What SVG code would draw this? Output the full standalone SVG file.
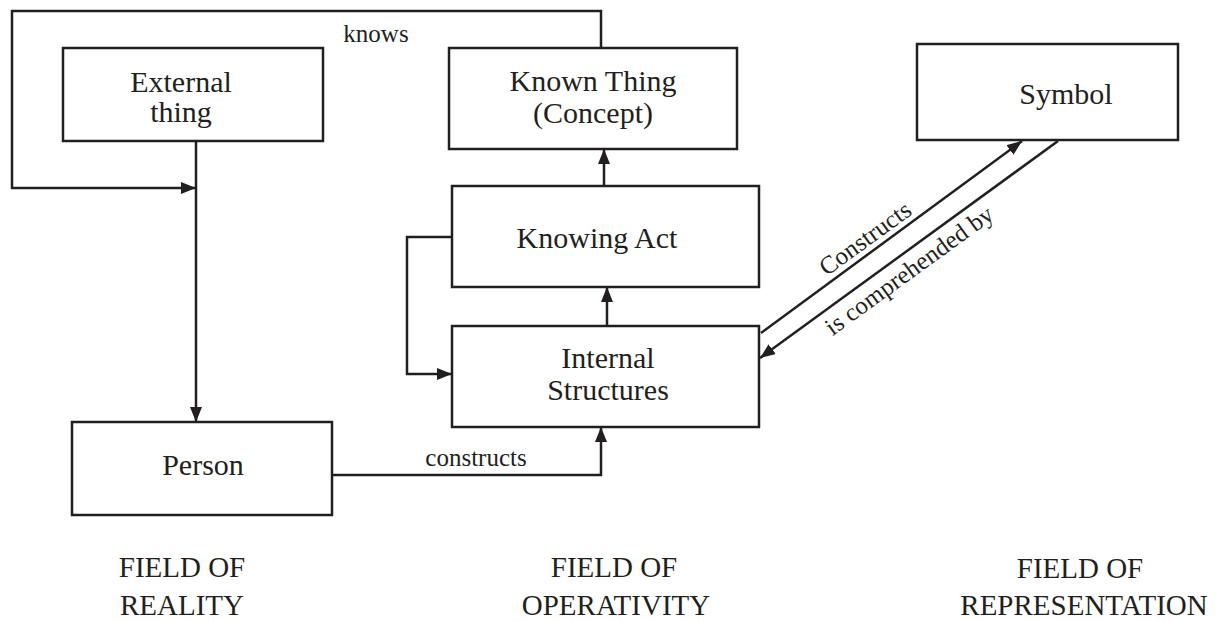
<svg xmlns="http://www.w3.org/2000/svg" width="1222" height="621" viewBox="0 0 1222 621">
  <style>
    .box { fill: #ffffff; stroke: #231f20; stroke-width: 2.5; }
    .link { fill: none; stroke: #231f20; stroke-width: 2.5; }
    .lbl { font-family: "Liberation Serif", "Times New Roman", serif; font-size: 30px; fill: #231f20; text-anchor: middle; }
    .elbl { font-family: "Liberation Serif", "Times New Roman", serif; font-size: 25px; fill: #231f20; text-anchor: middle; }
    .field { font-family: "Liberation Serif", "Times New Roman", serif; font-size: 29px; fill: #231f20; text-anchor: middle; }
  </style>
  <defs>
    <marker id="arrow" markerUnits="userSpaceOnUse" markerWidth="16" markerHeight="12" refX="15" refY="6" orient="auto">
      <path d="M0,0 L15,6 L0,12 z" fill="#231f20"/>
    </marker>
  </defs>
  <rect width="1222" height="621" fill="#ffffff"/>

  <!-- connectors -->
  <g id="connectors">
    <!-- knows: Known Thing loops back over the top to the Person line -->
    <path class="link" d="M601,48 V11 H12 V188 H196" marker-end="url(#arrow)"/>
    <!-- External thing down to Person -->
    <path class="link" d="M196,141 V422" marker-end="url(#arrow)"/>
    <!-- Person constructs Internal Structures -->
    <path class="link" d="M332,475 H601 V427" marker-end="url(#arrow)"/>
    <!-- Internal Structures to Knowing Act -->
    <path class="link" d="M607,326 V287" marker-end="url(#arrow)"/>
    <!-- Knowing Act to Known Thing -->
    <path class="link" d="M604,186 V149" marker-end="url(#arrow)"/>
    <!-- feedback from Knowing Act into Internal Structures -->
    <path class="link" d="M452,237 H407 V374 H452" marker-end="url(#arrow)"/>
    <!-- Internal Structures constructs Symbol -->
    <path class="link" d="M761,333 L1022,141" marker-end="url(#arrow)"/>
    <!-- Symbol is comprehended by Internal Structures -->
    <path class="link" d="M1058,141 L760,358" marker-end="url(#arrow)"/>

    <text class="elbl" x="376" y="42">knows</text>
    <text class="elbl" x="476" y="466">constructs</text>
    <text class="elbl" transform="translate(870,245) rotate(-36)">Constructs</text>
    <text class="elbl" transform="translate(914,277) rotate(-36)">is comprehended by</text>
  </g>

  <!-- nodes -->
  <g id="external-thing">
    <rect class="box" x="63" y="48" width="260" height="93"/>
    <text class="lbl" x="181" y="92">External</text>
    <text class="lbl" x="181" y="122">thing</text>
  </g>
  <g id="known-thing">
    <rect class="box" x="449" y="48" width="288" height="101"/>
    <text class="lbl" x="593" y="91">Known Thing</text>
    <text class="lbl" x="593" y="123">(Concept)</text>
  </g>
  <g id="symbol">
    <rect class="box" x="917" y="44" width="261" height="96"/>
    <text class="lbl" x="1066" y="104">Symbol</text>
  </g>
  <g id="knowing-act">
    <rect class="box" x="452" y="186" width="307" height="101"/>
    <text class="lbl" x="597" y="248">Knowing Act</text>
  </g>
  <g id="internal-structures">
    <rect class="box" x="452" y="326" width="307" height="101"/>
    <text class="lbl" x="608" y="368">Internal</text>
    <text class="lbl" x="608" y="400">Structures</text>
  </g>
  <g id="person">
    <rect class="box" x="72" y="422" width="260" height="93"/>
    <text class="lbl" x="203" y="475">Person</text>
  </g>

  <!-- field captions -->
  <g id="field-reality">
    <text class="field" x="182" y="577">FIELD OF</text>
    <text class="field" x="182" y="615">REALITY</text>
  </g>
  <g id="field-operativity">
    <text class="field" x="614" y="577">FIELD OF</text>
    <text class="field" x="616" y="615">OPERATIVITY</text>
  </g>
  <g id="field-representation">
    <text class="field" x="1080" y="578">FIELD OF</text>
    <text class="field" x="1084" y="615">REPRESENTATION</text>
  </g>
</svg>
